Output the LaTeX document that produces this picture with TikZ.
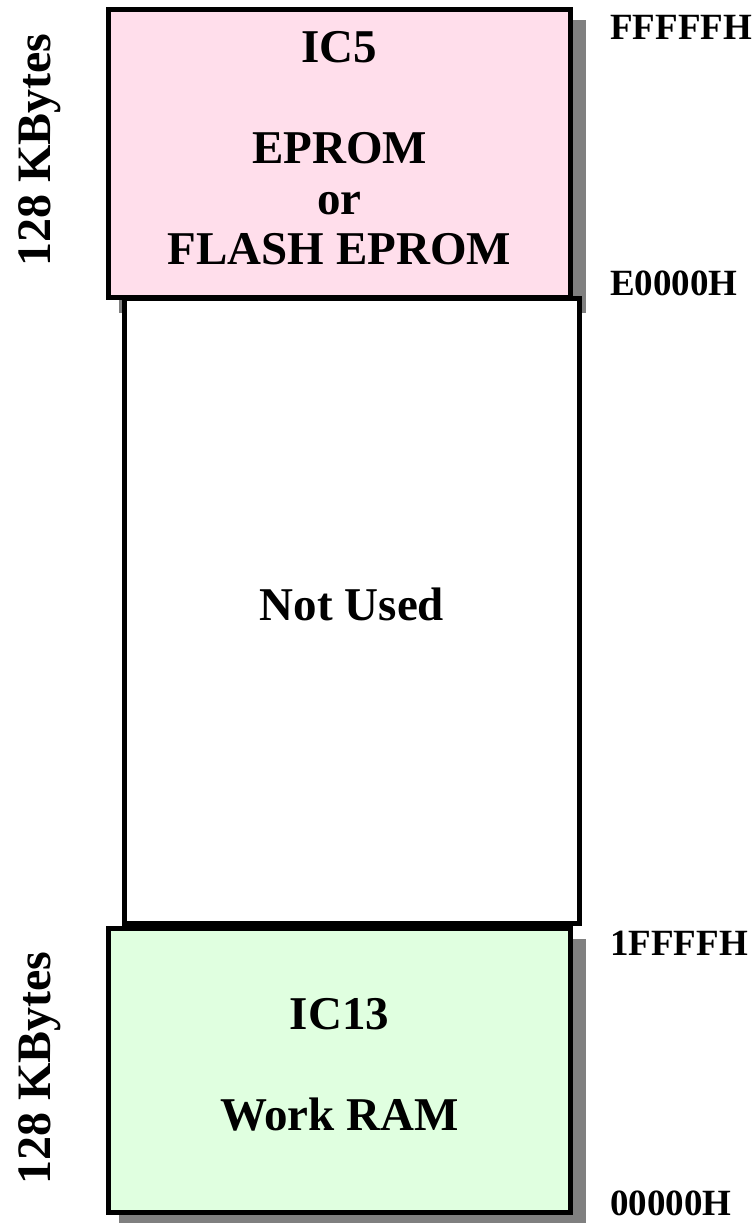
\documentclass[tikz,border=0pt]{standalone}
\usepackage{fontspec}
\setmainfont{Liberation Serif}
\pgfdeclarelayer{background}
\pgfsetlayers{background,main}
\definecolor{rompink}{RGB}{255,222,235}
\definecolor{ramgreen}{RGB}{224,255,224}
\definecolor{shadowgray}{RGB}{128,128,128}
\tikzset{
  membox/.style={draw=black, line width=5pt, inner sep=0pt, align=center,
    font=\bfseries\fontsize{47}{50.5}\selectfont},
  addr/.style={anchor=base west, inner sep=0pt, font=\bfseries\fontsize{37}{40}\selectfont},
  sizelabel/.style={anchor=base, rotate=90, inner sep=0pt, font=\bfseries\fontsize{48}{50}\selectfont},
  boxshadow/.style={fill=shadowgray}
}
\begin{document}
\begin{tikzpicture}[x=1pt,y=-1pt]
\useasboundingbox (0,0) rectangle (755,1223);
% middle (not used) region
\node[membox, fill=white, minimum width=455pt, minimum height=625.5pt] (mid) at (352,610.75) {\strut Not Used\strut};
% top region
\node[membox, fill=rompink, minimum width=462pt, minimum height=288pt] (top) at (339.5,153.5)
  {\strut IC5\\[50.5pt]EPROM\\or\\FLASH EPROM\strut};
% bottom region
\node[membox, fill=ramgreen, minimum width=462pt, minimum height=284.5pt] (bot) at (339.5,1070.25)
  {\strut IC13\\[50.5pt]Work RAM\strut};
\begin{pgfonlayer}{background}
  \fill[boxshadow] ([shift={(13,13)}]top.south west) rectangle ([shift={(13,13)}]top.north east);
  \fill[boxshadow] ([shift={(13,13)}]bot.south west) rectangle ([shift={(13,13)}]bot.north east);
\end{pgfonlayer}
% address labels
\node[addr] (aFFFFF) at (610,40) {FFFFFH};
\node[addr] (aE0000) at (610,295) {E0000H};
\node[addr] (a1FFFF) at (610,955) {1FFFFH};
\node[addr] (a00000) at (610,1215) {00000H};
% size labels
\node[sizelabel] (sizetop) at (50,150) {128 KBytes};
\node[sizelabel] (sizebot) at (50,1068) {128 KBytes};
\end{tikzpicture}
\end{document}
